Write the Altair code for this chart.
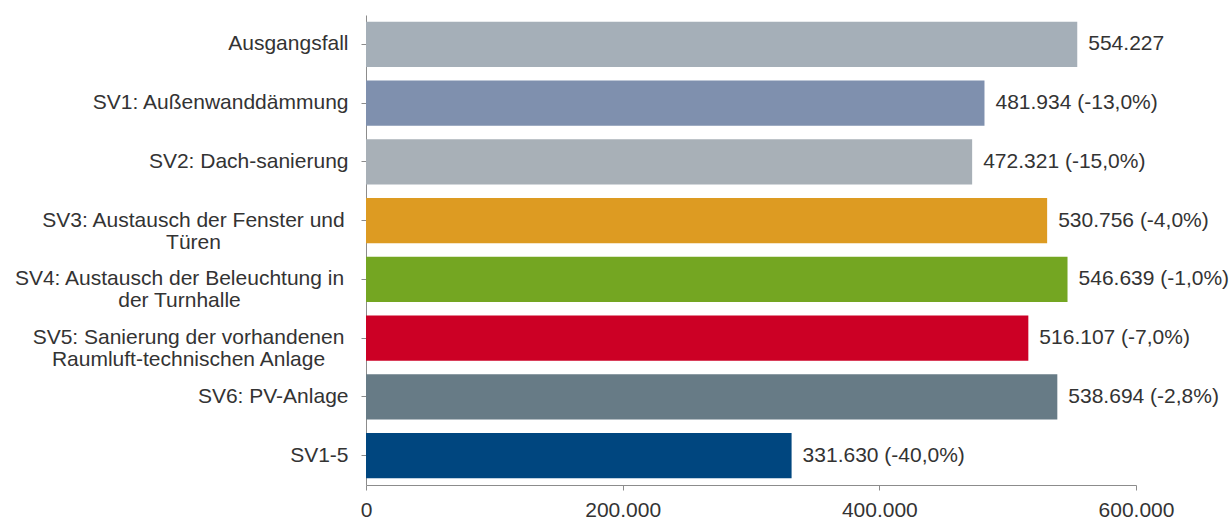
import altair as alt
import pandas as pd

categories = [
    "Ausgangsfall",
    "SV1: Außenwanddämmung",
    "SV2: Dach-sanierung",
    "SV3: Austausch der Fenster und|Türen",
    "SV4: Austausch der Beleuchtung in|der Turnhalle",
    "SV5: Sanierung der vorhandenen|Raumluft-technischen Anlage",
    "SV6: PV-Anlage",
    "SV1-5",
]
values = [554227, 481934, 472321, 530756, 546639, 516107, 538694, 331630]
pct_labels = ["", "(-13,0%)", "(-15,0%)", "(-4,0%)", "(-1,0%)", "(-7,0%)", "(-2,8%)", "(-40,0%)"]
colors = ["#a5afb8", "#7f90ae", "#a8b0b7", "#dd9b22", "#74a622", "#cc0025", "#677b86", "#00467f"]
x_ticks = [0, 200000, 400000, 600000]

labels = [
    (f"{v:,}".replace(",", ".") + (" " + p if p else ""))
    for v, p in zip(values, pct_labels)
]
df = pd.DataFrame({"cat": categories, "value": values, "label": labels})

FONT = "Liberation Sans"
TXT = "#333333"
AX = "#8c8c8c"

def t(c):
    return f"datum.value === '{c}'"

y_enc = alt.Y(
    "cat:N",
    sort=categories,
    scale=alt.Scale(paddingInner=0.234, paddingOuter=0.117),
    axis=alt.Axis(
        title=None,
        labelExpr="split(datum.label, '|')",
        labelFont=FONT,
        labelFontSize=21,
        labelColor=TXT,
        labelLineHeight=22,
        labelLimit=0,
        labelAlign={
            "condition": {"test": "indexof(datum.value, '|') >= 0", "value": "center"},
            "value": "right",
        },
        labelPadding={
            "condition": [
                {"test": t(categories[3]), "value": 168},
                {"test": t(categories[4]), "value": 182},
                {"test": t(categories[5]), "value": 173},
            ],
            "value": 13,
        },
        tickSize=5,
        tickColor=AX,
        domainColor=AX,
        grid=False,
    ),
)

x_enc = alt.X(
    "value:Q",
    scale=alt.Scale(domain=[0, 600000], nice=False),
    axis=alt.Axis(
        title=None,
        values=x_ticks,
        labelExpr="replace(format(datum.value, ','), /,/g, '.')",
        labelFont=FONT,
        labelFontSize=21,
        labelColor=TXT,
        labelPadding=9,
        tickSize=5,
        tickColor=AX,
        domainColor=AX,
        grid=False,
        labelFlush=False,
    ),
)

bars = alt.Chart(df).mark_bar().encode(
    x=x_enc,
    y=y_enc,
    color=alt.Color("cat:N", scale=alt.Scale(domain=categories, range=colors), legend=None),
)

text = alt.Chart(df).mark_text(
    align="left", baseline="middle", dx=11, font=FONT, fontSize=21, color=TXT
).encode(
    x=alt.X("value:Q"),
    y=alt.Y("cat:N", sort=categories),
    text="label:N",
)

chart = (
    alt.layer(bars, text)
    .properties(
        width=770,
        height=470,
        autosize=alt.AutoSizeParams(type="none"),
        padding={"left": 366, "top": 15, "right": 94, "bottom": 34},
        background="white",
    )
    .configure_view(stroke=None)
)

chart.save("out.html", embed_options={"renderer": "svg", "actions": False})
